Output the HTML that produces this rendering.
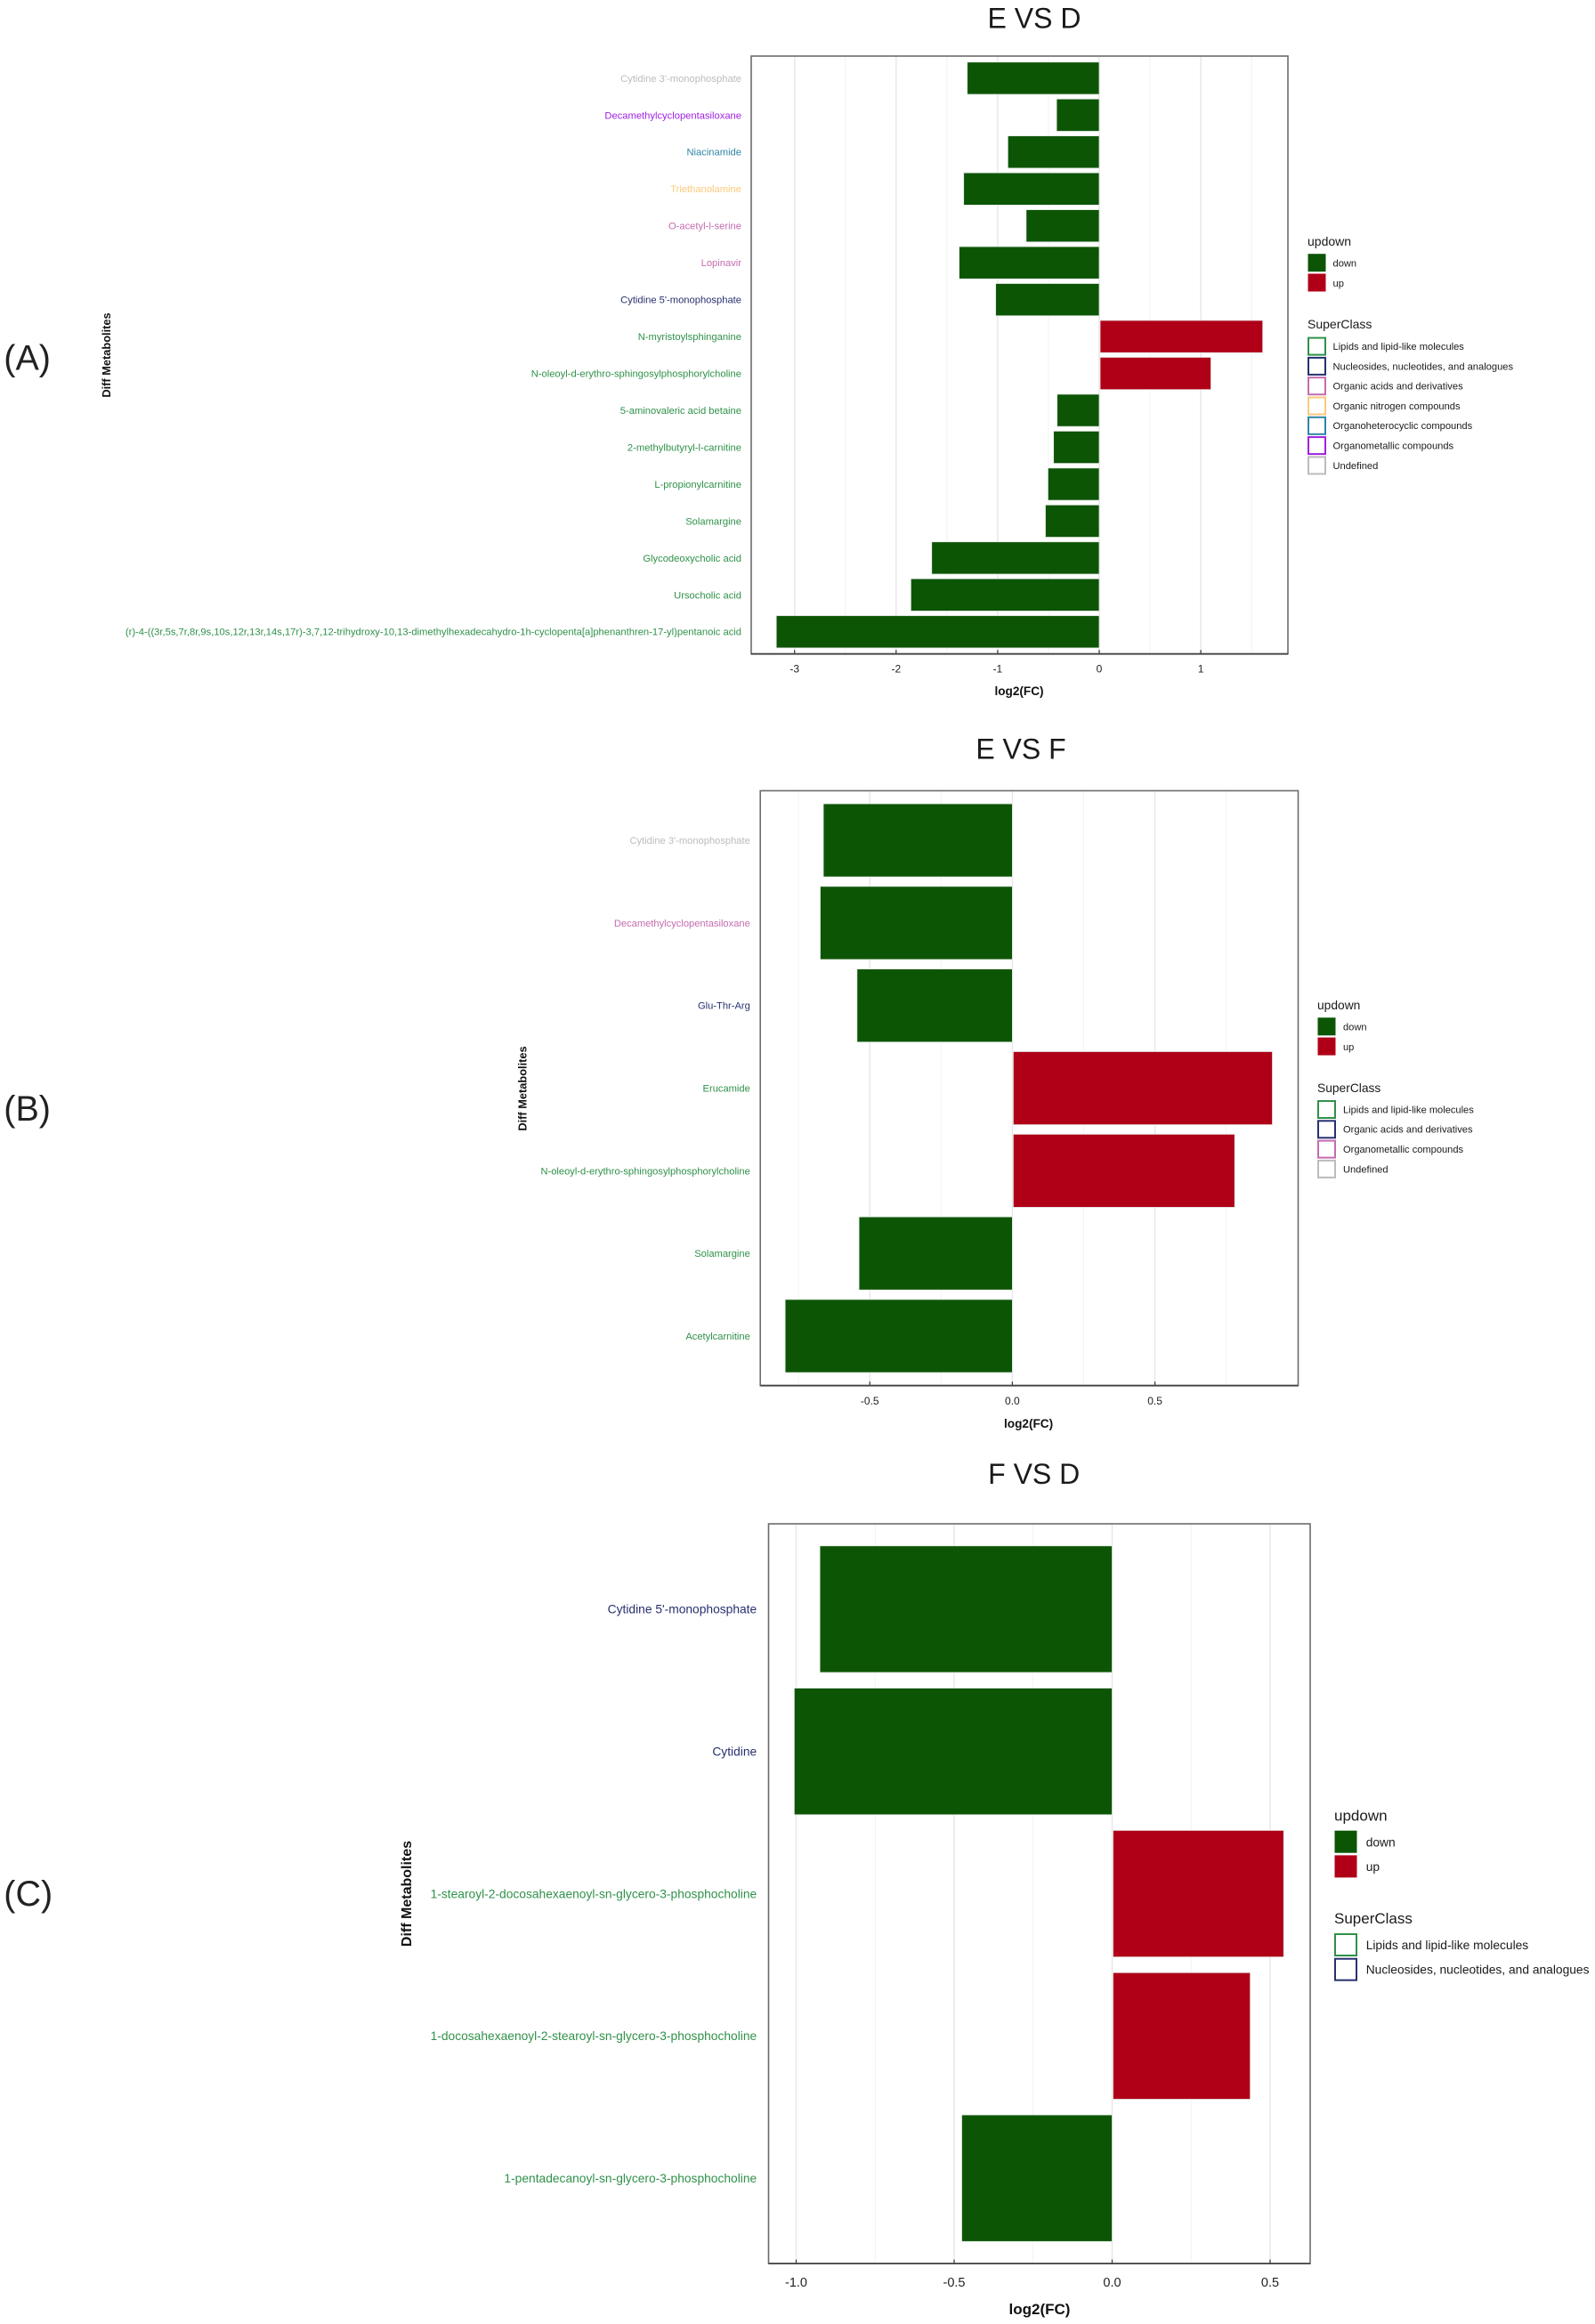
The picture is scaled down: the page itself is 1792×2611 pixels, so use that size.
<!DOCTYPE html>
<html lang="en">
<head>
<meta charset="utf-8">
<title>Diff Metabolites: E VS D, E VS F, F VS D</title>
<style>
html,body{margin:0;padding:0;background:#fff;}
svg{display:block;font-family:"Liberation Sans",Arial,sans-serif;}
</style>
</head>
<body>
<svg id="figure" xmlns="http://www.w3.org/2000/svg" width="1792" height="2611" viewBox="0 0 1792 2611">
<rect x="0" y="0" width="1792" height="2611" fill="#ffffff"/>
<text x="4.3" y="415.7" font-size="39.5" fill="#222">(A)</text>
<text x="4.3" y="1259" font-size="39.5" fill="#222">(B)</text>
<text x="4.3" y="2141" font-size="39.5" fill="#222">(C)</text>
</svg>
<script>
// ---- Panel A: E VS D ----
const categoriesA = ["Cytidine 3'-monophosphate","Decamethylcyclopentasiloxane","Niacinamide","Triethanolamine","O-acetyl-l-serine","Lopinavir","Cytidine 5'-monophosphate","N-myristoylsphinganine","N-oleoyl-d-erythro-sphingosylphosphorylcholine","5-aminovaleric acid betaine","2-methylbutyryl-l-carnitine","L-propionylcarnitine","Solamargine","Glycodeoxycholic acid","Ursocholic acid","(r)-4-((3r,5s,7r,8r,9s,10s,12r,13r,14s,17r)-3,7,12-trihydroxy-10,13-dimethylhexadecahydro-1h-cyclopenta[a]phenanthren-17-yl)pentanoic acid"];
const valuesA = [-1.30,-0.42,-0.90,-1.335,-0.72,-1.38,-1.02,1.61,1.10,-0.415,-0.45,-0.505,-0.53,-1.65,-1.855,-3.18];
const classesA = ["Undefined","Organometallic compounds","Organoheterocyclic compounds","Organic nitrogen compounds","Organic acids and derivatives","Organic acids and derivatives","Nucleosides, nucleotides, and analogues","Lipids and lipid-like molecules","Lipids and lipid-like molecules","Lipids and lipid-like molecules","Lipids and lipid-like molecules","Lipids and lipid-like molecules","Lipids and lipid-like molecules","Lipids and lipid-like molecules","Lipids and lipid-like molecules","Lipids and lipid-like molecules"];
const majorTicksA = [-3,-2,-1,0,1];
const tickLabelsA = ["-3","-2","-1","0","1"];
const minorTicksA = [-2.5,-1.5,-0.5,0.5,1.5];
const legendClassesA = ["Lipids and lipid-like molecules","Nucleosides, nucleotides, and analogues","Organic acids and derivatives","Organic nitrogen compounds","Organoheterocyclic compounds","Organometallic compounds","Undefined"];

// ---- Panel B: E VS F ----
const categoriesB = ["Cytidine 3'-monophosphate","Decamethylcyclopentasiloxane","Glu-Thr-Arg","Erucamide","N-oleoyl-d-erythro-sphingosylphosphorylcholine","Solamargine","Acetylcarnitine"];
const valuesB = [-0.663,-0.674,-0.545,0.912,0.78,-0.538,-0.797];
const classesB = ["Undefined","Organometallic compounds","Organic acids and derivatives","Lipids and lipid-like molecules","Lipids and lipid-like molecules","Lipids and lipid-like molecules","Lipids and lipid-like molecules"];
const majorTicksB = [-0.5,0,0.5];
const tickLabelsB = ["-0.5","0.0","0.5"];
const minorTicksB = [-0.75,-0.25,0.25,0.75];
const legendClassesB = ["Lipids and lipid-like molecules","Organic acids and derivatives","Organometallic compounds","Undefined"];

// ---- Panel C: F VS D ----
const categoriesC = ["Cytidine 5'-monophosphate","Cytidine","1-stearoyl-2-docosahexaenoyl-sn-glycero-3-phosphocholine","1-docosahexaenoyl-2-stearoyl-sn-glycero-3-phosphocholine","1-pentadecanoyl-sn-glycero-3-phosphocholine"];
const valuesC = [-0.925,-1.006,0.543,0.437,-0.476];
const classesC = ["Nucleosides, nucleotides, and analogues","Nucleosides, nucleotides, and analogues","Lipids and lipid-like molecules","Lipids and lipid-like molecules","Lipids and lipid-like molecules"];
const majorTicksC = [-1,-0.5,0,0.5];
const tickLabelsC = ["-1.0","-0.5","0.0","0.5"];
const minorTicksC = [-0.75,-0.25,0.25];
const legendClassesC = ["Lipids and lipid-like molecules","Nucleosides, nucleotides, and analogues"];

const legendDirections = ["down","up"];

// Styling keyed by class name (the B panel remaps navy / pink as in the original figure).
const classColor = {
  "Lipids and lipid-like molecules":"#2f9149",
  "Nucleosides, nucleotides, and analogues":"#27306f",
  "Organic acids and derivatives":"#c46cb0",
  "Organic nitrogen compounds":"#fbc97c",
  "Organoheterocyclic compounds":"#2f86a6",
  "Organometallic compounds":"#a021e0",
  "Undefined":"#bcbcbc"
};
const classColorB = {
  "Lipids and lipid-like molecules":"#2f9149",
  "Organic acids and derivatives":"#27306f",
  "Organometallic compounds":"#c46cb0",
  "Undefined":"#bcbcbc"
};
const DOWN = "#0c5505";
const UP = "#b00018";
const NS = "http://www.w3.org/2000/svg";
const root = document.getElementById("figure");

function shape(parent, tag, attrs, content) {
  const node = document.createElementNS(NS, tag);
  for (const k in attrs) node.setAttribute(k, attrs[k]);
  if (content !== undefined) node.textContent = content;
  parent.appendChild(node);
  return node;
}
// Text positioned by its vertical centre.
function label(parent, x, cy, size, str, opts) {
  const o = opts || {};
  return shape(parent, "text", {
    x: x, y: cy + size * 0.35, "font-size": size,
    "text-anchor": o.anchor || "start",
    "font-weight": o.weight || "normal",
    fill: o.fill || "#1a1a1a"
  }, str);
}

function drawPanel(p) {
  const g = shape(root, "g", {});
  
  

  const xScale = v => p.zeroX + v * p.unit;
  const band = (p.bottom - p.top) / (p.categories.length + 0.2);
  const yScale = i => p.top + (i + 0.6) * band;

  const title = label(g, p.titleX, p.titleY, 32, p.title, {anchor: "middle", fill: "#1a1a1a"});
  
  

  p.minor.forEach(v => {
    const line = shape(g, "line", {x1: xScale(v), x2: xScale(v), y1: p.top, y2: p.bottom, stroke: "#f2f2f2", "stroke-width": 1});
    
    
  });
  p.major.forEach(v => {
    const line = shape(g, "line", {x1: xScale(v), x2: xScale(v), y1: p.top, y2: p.bottom, stroke: "#e8e8e8", "stroke-width": 1.5});
    
    
  });

  p.values.forEach((v, i) => {
    const h = band * p.barFill;
    const x0 = v < 0 ? xScale(v) : xScale(0) + 1;
    const x1 = v < 0 ? xScale(0) : xScale(v);
    const bar = shape(g, "rect", {
      x: Math.min(x0, x1), y: yScale(i) - h / 2,
      width: Math.abs(x1 - x0), height: h,
      fill: v < 0 ? DOWN : UP, stroke: "#e4e9e4", "stroke-width": 0.8
    });
    
    

    const cat = label(g, p.catX, yScale(i), p.catSize, p.categories[i], {anchor: "end", fill: p.palette[p.classes[i]]});
    
    
  });

  const frame = shape(g, "rect", {x: p.left, y: p.top, width: p.right - p.left, height: p.bottom - p.top, fill: "none", stroke: "#6c6c6c", "stroke-width": 1.6});
  
  

  const axis = shape(g, "line", {x1: p.left, x2: p.right, y1: p.bottom, y2: p.bottom, stroke: "#444", "stroke-width": 1.8});
  
  

  p.major.forEach((v, i) => {
    const tick = shape(g, "line", {x1: xScale(v), x2: xScale(v), y1: p.bottom - 4.5, y2: p.bottom, stroke: "#444", "stroke-width": 1.3});
    
    

    const tl = label(g, xScale(v), p.tickY, p.tickSize, p.tickLabels[i], {anchor: "middle", fill: "#222"});
    
    
  });

  const xt = label(g, p.xTitleX, p.xTitleY, p.axisSize, "log2(FC)", {anchor: "middle", weight: "bold", fill: "#111"});
  
  

  const yt = shape(g, "text", {
    x: 0, y: 0, "font-size": p.yTitleSize, "font-weight": "bold", fill: "#111", "text-anchor": "middle",
    transform: "translate(" + (p.yTitleX + p.yTitleSize * 0.35) + "," + p.yTitleY + ") rotate(-90)"
  }, "Diff Metabolites");
  
  

  // Legends
  const lg = p.legend;
  const t1 = label(g, lg.x, lg.y1, lg.titleSize, "updown", {fill: "#1a1a1a"});
  
  

  legendDirections.forEach((d, i) => {
    const ky = lg.y1Key + i * lg.pitch;
    const key = shape(g, "rect", {x: lg.x + 0.5, y: ky, width: lg.key - 1, height: lg.key - 1, fill: d === "down" ? DOWN : UP});
    
    

    const txt = label(g, lg.textX, ky + lg.key / 2, lg.size, d);
    
    
  });

  const t2 = label(g, lg.x, lg.y2, lg.titleSize, "SuperClass", {fill: "#1a1a1a"});
  
  

  p.legendClasses.forEach((c, i) => {
    const ky = lg.y2Key + i * lg.pitch;
    const key = shape(g, "rect", {x: lg.x + 1, y: ky + 1, width: lg.key - 2, height: lg.key - 2, fill: "#fff", stroke: p.palette[c], "stroke-width": 2});
    
    

    const txt = label(g, lg.textX, ky + lg.key / 2, lg.size, c);
    
    
  });
}

drawPanel({
  id: "e-vs-d", title: "E VS D", titleX: 1162, titleY: 20.5,
  left: 844, right: 1447, top: 63, bottom: 734.7, zeroX: 1235, unit: 114.1, barFill: 0.875,
  categories: categoriesA, values: valuesA, classes: classesA,
  major: majorTicksA, tickLabels: tickLabelsA, minor: minorTicksA,
  legendClasses: legendClassesA, palette: classColor,
  catX: 833, catSize: 11.2, tickY: 751.5, tickSize: 12,
  xTitleX: 1145, xTitleY: 776, axisSize: 13.6,
  yTitleX: 119.5, yTitleY: 399, yTitleSize: 12.8,
  legend: {x: 1469, y1: 271, y1Key: 285.2, y2: 364.3, y2Key: 378.6, pitch: 22.3, key: 21, textX: 1497.5, size: 11.15, titleSize: 14}
});

drawPanel({
  id: "e-vs-f", title: "E VS F", titleX: 1147, titleY: 841.5,
  left: 854.2, right: 1458.5, top: 888.4, bottom: 1556.7, zeroX: 1137.4, unit: 320.3, barFill: 0.885,
  categories: categoriesB, values: valuesB, classes: classesB,
  major: majorTicksB, tickLabels: tickLabelsB, minor: minorTicksB,
  legendClasses: legendClassesB, palette: classColorB,
  catX: 842.8, catSize: 11.15, tickY: 1574, tickSize: 12,
  xTitleX: 1155.6, xTitleY: 1599, axisSize: 13.6,
  yTitleX: 587, yTitleY: 1223, yTitleSize: 12.8,
  legend: {x: 1480, y1: 1129, y1Key: 1143.3, y2: 1222, y2Key: 1236, pitch: 22.3, key: 21, textX: 1509, size: 11.1, titleSize: 13.8}
});

drawPanel({
  id: "f-vs-d", title: "F VS D", titleX: 1161.7, titleY: 1656,
  left: 863.5, right: 1472, top: 1712, bottom: 2543.1, zeroX: 1249.5, unit: 355, barFill: 0.89,
  categories: categoriesC, values: valuesC, classes: classesC,
  major: majorTicksC, tickLabels: tickLabelsC, minor: minorTicksC,
  legendClasses: legendClassesC, palette: classColor,
  catX: 850.2, catSize: 13.8, tickY: 2563.8, tickSize: 14.5,
  xTitleX: 1168, xTitleY: 2594, axisSize: 17,
  yTitleX: 456.5, yTitleY: 2127.5, yTitleSize: 16,
  legend: {x: 1499, y1: 2039.3, y1Key: 2056.7, y2: 2155, y2Key: 2172, pitch: 27.7, key: 26, textX: 1534.7, size: 13.8, titleSize: 17}
});
</script>
</body>
</html>
